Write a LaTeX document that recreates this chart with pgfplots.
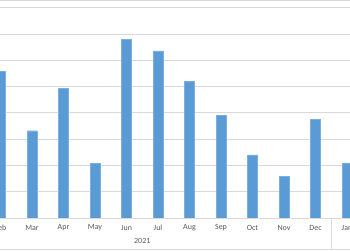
\documentclass[border=0pt]{standalone}
\usepackage{pgfplots}
\pgfplotsset{compat=1.18}
\usetikzlibrary{calc}
\usepackage{fontspec}
\setmainfont{Carlito}
\definecolor{barblue}{RGB}{91,155,213}
\definecolor{gridgray}{RGB}{217,217,217}
\definecolor{labgray}{RGB}{89,89,89}
\begin{document}
\begin{tikzpicture}
\begin{axis}[
  name=ax,
  scale only axis,
  width=350bp, height=218bp,
  xmin=0.984, xmax=12.095,
  ymin=0, ymax=8.29,
  axis line style={draw=none},
  ytick={1,2,3,4,5,6,7,8},
  yticklabels={},
  ymajorgrids,
  grid style={gridgray, line width=0.8bp},
  xtick={1,2,3,4,5,6,7,8,9,10,11,12},
  xticklabels={Feb,Mar,Apr,May,Jun,Jul,Aug,Sep,Oct,Nov,Dec,Jan},
  major tick length=0pt,
  xticklabel style={font=\fontsize{8}{9}\selectfont, text=labgray, anchor=center, yshift=-10bp},
  ybar, bar width=10bp,
  clip=true,
]
\addplot[fill=barblue, draw=barblue!80!white, line width=0.4bp] coordinates {
  (1,5.59) (2,3.32) (3,4.93) (4,2.08) (5,6.79) (6,6.36)
  (7,5.20) (8,3.90) (9,2.40) (10,1.59) (11,3.75) (12,2.10)
};
\coordinate (sep) at (axis cs:11.5,0);
\coordinate (yr) at (axis cs:5.5,0);
\end{axis}
\draw[gridgray, line width=0.8bp] (ax.south west) -- (ax.south east);
\draw[gridgray, line width=0.8bp] (sep) -- ($(sep)+(0,-32bp)$);
\node[font=\fontsize{8}{9}\selectfont, text=labgray] at ($(yr)+(0,-23bp)$) {2021};
\draw[gridgray, line width=0.8bp] ($(ax.south west)+(0,-31bp)$) -- ($(ax.south east)+(0,-31bp)$);
\draw[gridgray, line width=0.8bp] ($(ax.north west)+(0,-0.5bp)$) -- ($(ax.north east)+(0,-0.5bp)$);
\pgfresetboundingbox
\path ($(ax.south west)+(0,-32bp)$) rectangle (ax.north east);
\end{tikzpicture}
\end{document}
